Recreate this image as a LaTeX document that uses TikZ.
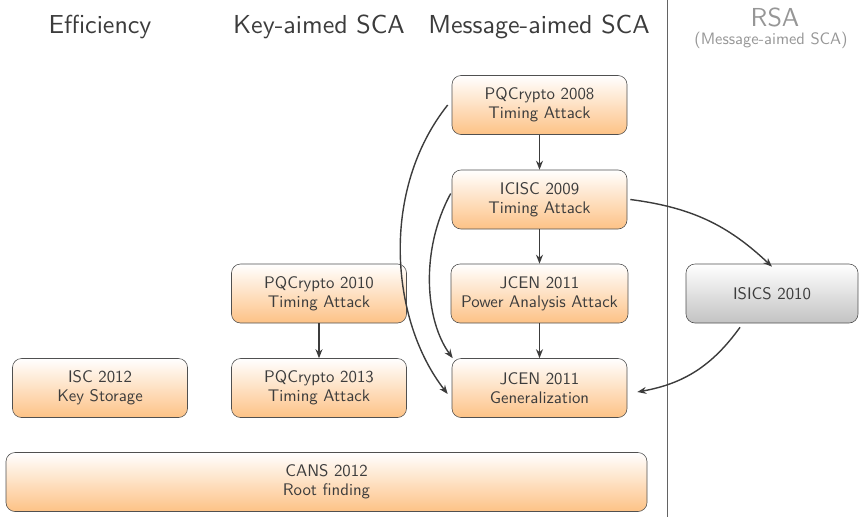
\documentclass[tikz,border=0pt]{standalone}
\usepackage{fontspec}
\usetikzlibrary{arrows.meta}
% one optical design of Latin Modern Sans for every size
\newfontfamily\lmsansten{lmsans10-regular.otf}
\definecolor{txt}{RGB}{60,60,60}
\definecolor{boxorange}{RGB}{253,194,134}
\definecolor{boxgray}{RGB}{195,195,195}
\definecolor{headgray}{RGB}{150,150,150}
\begin{document}
\begin{tikzpicture}[x=1pt,y=-1pt,
  font=\lmsansten,
  paper/.style={draw=txt!90, line width=0.6pt, rounded corners=9pt,
    top color=white, bottom color=boxorange, text=txt,
    minimum width=175pt, minimum height=59pt, align=center,
    font=\lmsansten\fontsize{16.8}{19}\selectfont},
  rsapaper/.style={paper, bottom color=boxgray},
  head/.style={text=txt, font=\lmsansten\fontsize{26}{28}\selectfont},
  link/.style={draw=txt, line width=1.4pt, -{Stealth[length=9pt,width=7pt]}}]
\useasboundingbox (0,0) rectangle (859,517);

% column headings
\node[head] (hEff) at (100,27) {Efficiency};
\node[head] (hKey) at (319,27) {Key-aimed SCA};
\node[head] (hMsg) at (539,27) {Message-aimed SCA};
\node[head, text=headgray] (hRsa) at (775,17) {RSA};
\node[text=headgray, font=\lmsansten\fontsize{16.5}{18}\selectfont] (hRsaSub) at (771,40) {(Message-aimed SCA)};

% separator
\coordinate (sepT) at (667,0);
\coordinate (sepB) at (667,517);
\draw[txt!80, line width=0.6pt] (sepT) -- (sepB);

% papers
\node[paper] (pq08) at (539.5,105) {PQCrypto 2008\\Timing Attack};
\node[paper] (icisc) at (539.5,199.5) {ICISC 2009\\Timing Attack};
\node[paper, minimum width=177pt] (jcenP) at (539.5,293.5) {JCEN 2011\\Power Analysis Attack};
\node[paper] (jcenG) at (539.5,388) {JCEN 2011\\Generalization};
\node[paper] (pq10) at (319,293.5) {PQCrypto 2010\\Timing Attack};
\node[paper] (pq13) at (319,388) {PQCrypto 2013\\Timing Attack};
\node[paper] (isc) at (100,388) {ISC 2012\\Key Storage};
\node[paper, minimum width=641pt] (cans) at (326.5,482) {CANS 2012\\Root finding};
\node[rsapaper, minimum width=172pt] (isics) at (772,293.5) {ISICS 2010};

% links
\draw[link] (pq08) -- (icisc);
\draw[link] (icisc) -- (jcenP);
\draw[link] (jcenP) -- (jcenG);
\draw[link] (pq10) -- (pq13);
\draw[link] ([xshift=3pt]icisc.east) to[bend left=18] ([yshift=-3pt]isics.north);
\draw[link] ([xshift=-32pt,yshift=-4pt]isics.south) to[bend left=22] ([xshift=10pt,yshift=-4pt]jcenG.east);
\draw[link] ([xshift=-4pt]pq08.west) .. controls (380,190) and (390,320) .. ([xshift=-4pt,yshift=-6pt]jcenG.west);
\draw[link] ([xshift=-1pt,yshift=6pt]icisc.west) .. controls (420,250) and (425,320) .. ([xshift=1pt]jcenG.north west);
\end{tikzpicture}
\end{document}
